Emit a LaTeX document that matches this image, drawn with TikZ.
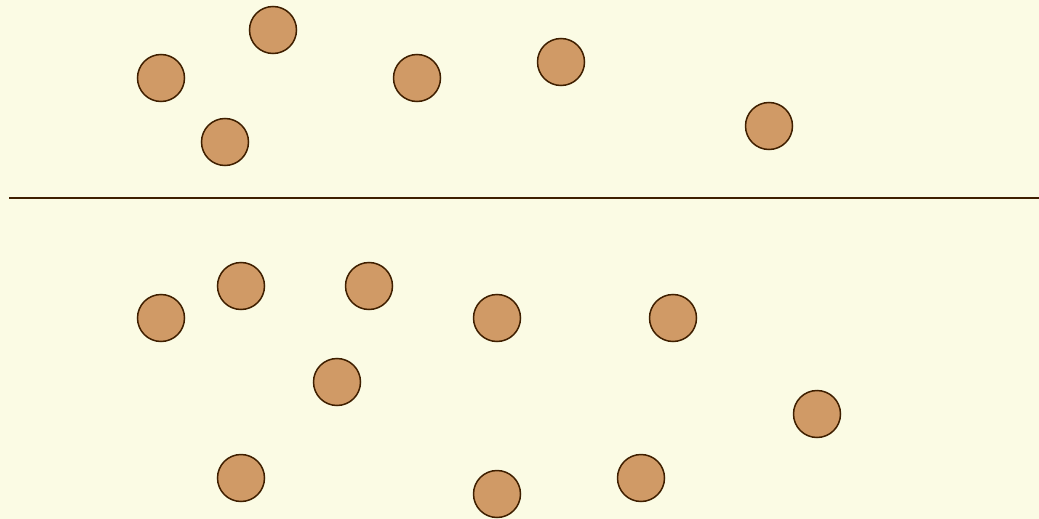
\documentclass[tikz,border=0pt]{standalone}
\definecolor{bg}{HTML}{FBFBE4}
\definecolor{ball}{HTML}{D09A66}
\definecolor{edge}{HTML}{3F1F00}
\begin{document}
\begin{tikzpicture}[x=1pt,y=-1pt,
  ballstyle/.style={circle,draw=edge,fill=ball,line width=1.5pt,minimum size=47pt,inner sep=0pt}]
\fill[bg] (0,0) rectangle (1039,519);
\useasboundingbox (0,0) rectangle (1039,519);
\node[ballstyle] (t1) at (273,30) {};
\node[ballstyle] (t2) at (161,78) {};
\node[ballstyle] (t3) at (417,78) {};
\node[ballstyle] (t4) at (561,62) {};
\node[ballstyle] (t5) at (225,142) {};
\node[ballstyle] (t6) at (769,126) {};
\coordinate (la) at (9,198);
\coordinate (lb) at (1039,198);
\draw[edge,line width=1.5pt] (la) -- (lb);
\node[ballstyle] (b1) at (161,318) {};
\node[ballstyle] (b2) at (241,286) {};
\node[ballstyle] (b3) at (369,286) {};
\node[ballstyle] (b4) at (497,318) {};
\node[ballstyle] (b5) at (673,318) {};
\node[ballstyle] (b6) at (337,382) {};
\node[ballstyle] (b7) at (817,414) {};
\node[ballstyle] (b8) at (241,478) {};
\node[ballstyle] (b9) at (497,494) {};
\node[ballstyle] (b10) at (641,478) {};
\end{tikzpicture}
\end{document}
